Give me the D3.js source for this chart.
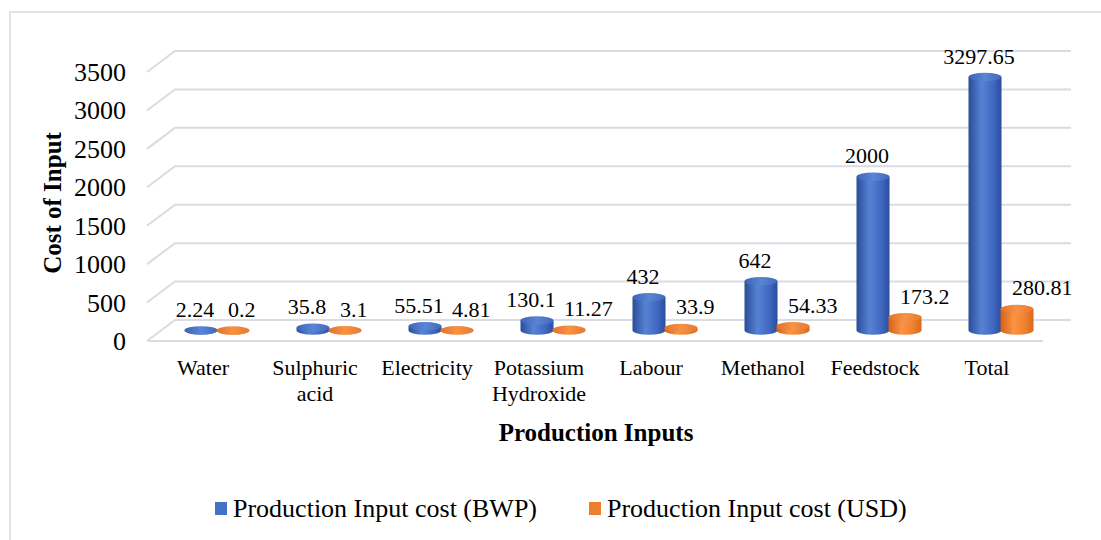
<!DOCTYPE html>
<html>
<head>
<meta charset="utf-8">
<script src="https://cdn.jsdelivr.net/npm/d3@7/dist/d3.min.js"></script>
<style>
  html, body { margin: 0; padding: 0; background: #fff; }
  svg { display: block; font-family: "Liberation Serif", "Times New Roman", serif; }
</style>
</head>
<body>
<svg id="chart" width="1101" height="540"></svg>
<script>
// Production input costs per category
const categories = ["Water", "Sulphuric acid", "Electricity", "Potassium Hydroxide", "Labour", "Methanol", "Feedstock", "Total"];
const categoryLines = [["Water"], ["Sulphuric", "acid"], ["Electricity"], ["Potassium", "Hydroxide"], ["Labour"], ["Methanol"], ["Feedstock"], ["Total"]];
const costBWP = [2.24, 35.8, 55.51, 130.1, 432, 642, 2000, 3297.65];
const costUSD = [0.2, 3.1, 4.81, 11.27, 33.9, 54.33, 173.2, 280.81];
const seriesNames = ["Production Input cost (BWP)", "Production Input cost (USD)"];
const yTicks = [0, 500, 1000, 1500, 2000, 2500, 3000, 3500];

const svg = d3.select("#chart");

// 3D projection: front plane plus depth offset to the back wall
const depthX = 28, depthY = -21;
const front = { left: 147, right: 1043, bottom: 341, top: 72 };

const x = d3.scaleBand().domain(categories).range([front.left, front.right]);
const y = d3.scaleLinear().domain([0, 3500]).range([front.bottom, front.top]);

// outer chart frame
svg.append("path")
  .attr("d", "M10,540 L10,12 L1101,12")
  .attr("fill", "none").attr("stroke", "#dfe3ea").attr("stroke-width", 2);

// gradients for the cylinders
const defs = svg.append("defs");
function grad(id, stops) {
  const g = defs.append("linearGradient").attr("id", id)
    .attr("x1", "0%").attr("x2", "100%").attr("y1", "0%").attr("y2", "0%");
  stops.forEach(([o, c]) => g.append("stop").attr("offset", o).attr("stop-color", c));
}
grad("blueBody", [["0%", "#2b4c9a"], ["40%", "#5683d6"], ["75%", "#3f69c0"], ["100%", "#2a4c9c"]]);
grad("blueTop", [["0%", "#3c64b6"], ["50%", "#5a84d4"], ["100%", "#4069bb"]]);
grad("orangeBody", [["0%", "#d3621a"], ["40%", "#fb9443"], ["75%", "#ef8030"], ["100%", "#d9681d"]]);
grad("orangeTop", [["0%", "#e4722a"], ["50%", "#f59246"], ["100%", "#e87a2e"]]);

// gridlines on side and back walls
const grid = svg.append("g").attr("stroke", "#d9dce2").attr("stroke-width", 2).attr("fill", "none");
yTicks.forEach(v => {
  const yf = y(v);
  grid.append("path")
    .attr("d", `M${front.left},${yf} L${front.left + depthX},${yf + depthY} L${front.right + depthX},${yf + depthY}`);
});
// floor front edge
grid.append("line")
  .attr("x1", front.left).attr("x2", front.right)
  .attr("y1", y(0)).attr("y2", y(0));

// y axis tick labels
svg.append("g").selectAll("text").data(yTicks).join("text")
  .attr("x", 126).attr("y", d => y(d) + 9)
  .attr("text-anchor", "end")
  .attr("font-size", 26).attr("fill", "#000")
  .text(d => d);

// category labels
const catG = svg.append("g");
categories.forEach((c, i) => {
  const cx = x(c) + x.bandwidth() / 2;
  const t = catG.append("text")
    .attr("x", cx).attr("y", 375)
    .attr("text-anchor", "middle").attr("font-size", 22).attr("fill", "#000");
  categoryLines[i].forEach((line, k) => {
    t.append("tspan").attr("x", cx).attr("dy", k === 0 ? 0 : 26).text(line);
  });
});

// cylinders sit halfway into the depth
const midX = depthX / 2, midY = depthY / 2;
const radius = 16.5, ry = 4.2;

function cylinder(g, cx, value, body, top) {
  const yb = y(0) + midY;
  const yt = y(value) + midY;
  g.append("path")
    .attr("d", `M${cx - radius},${yt} L${cx - radius},${yb} A${radius},${ry} 0 0 0 ${cx + radius},${yb} L${cx + radius},${yt} Z`)
    .attr("fill", `url(#${body})`);
  g.append("ellipse")
    .attr("cx", cx).attr("cy", yt).attr("rx", radius).attr("ry", ry)
    .attr("fill", `url(#${top})`);
  return yt;
}

const bars = svg.append("g");
const labels = svg.append("g").attr("font-size", 22).attr("fill", "#000");
categories.forEach((c, i) => {
  const cx = x(c) + x.bandwidth() / 2 + midX;
  const bx = cx - 16, ox = cx + 16;
  const tb = cylinder(bars, bx, costBWP[i], "blueBody", "blueTop");
  const to = cylinder(bars, ox, costUSD[i], "orangeBody", "orangeTop");
  labels.append("text")
    .attr("x", bx - 6).attr("y", tb - 13.5)
    .attr("text-anchor", "middle").text(costBWP[i]);
  labels.append("text")
    .attr("x", ox - 5).attr("y", to - 13.5)
    .attr("text-anchor", "start").text(costUSD[i]);
});

// axis titles
svg.append("text")
  .attr("transform", "translate(61,203) rotate(-90)")
  .attr("text-anchor", "middle").attr("font-size", 25).attr("font-weight", "bold")
  .text("Cost of Input");
svg.append("text")
  .attr("x", 596).attr("y", 441)
  .attr("text-anchor", "middle").attr("font-size", 25).attr("font-weight", "bold")
  .text("Production Inputs");

// legend
const legend = svg.append("g");
const legendItems = [
  { name: seriesNames[0], color: "#4472c4", x: 215 },
  { name: seriesNames[1], color: "#ed7d31", x: 589 }
];
legendItems.forEach(d => {
  legend.append("rect")
    .attr("x", d.x).attr("y", 502).attr("width", 12).attr("height", 13)
    .attr("fill", d.color);
  legend.append("text")
    .attr("x", d.x + 18).attr("y", 517)
    .attr("font-size", 26).attr("fill", "#000")
    .text(d.name);
});
</script>
</body>
</html>
